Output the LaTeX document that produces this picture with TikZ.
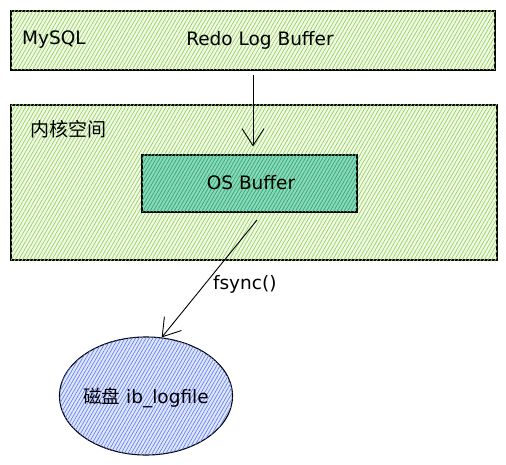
\documentclass[tikz,border=0pt]{standalone}
\usepackage{fontspec}
\setmainfont{DejaVu Sans}
\newfontfamily\cjkfont{Noto Sans CJK SC}
\usetikzlibrary{arrows.meta,patterns.meta,shapes.geometric}

\definecolor{hatchgreen}{HTML}{96D35A}
\definecolor{boxgreen}{HTML}{F1F9E8}
\definecolor{hatchteal}{HTML}{2FAF7E}
\definecolor{boxteal}{HTML}{8FD8B8}
\definecolor{hatchblue}{HTML}{6482F0}
\definecolor{boxblue}{HTML}{E0E6FC}

\tikzset{
  layer/.style={draw, line width=1.1pt, rectangle, inner sep=0pt, fill=boxgreen,
    postaction={pattern={Lines[angle=60,distance=3.2pt,line width=0.7pt]}, pattern color=hatchgreen}},
  osbox/.style={draw, line width=1.1pt, rectangle, inner sep=0pt, fill=boxteal,
    postaction={pattern={Lines[angle=60,distance=3pt,line width=0.8pt]}, pattern color=hatchteal}},
  diskbox/.style={draw, line width=1.1pt, ellipse, inner sep=0pt, fill=boxblue,
    postaction={pattern={Lines[angle=60,distance=3pt,line width=0.7pt]}, pattern color=hatchblue}},
  flow/.style={line width=0.9pt, -{Straight Barb[length=17pt,width=22pt,line width=0.9pt]}},
  tag/.style={font=\fontsize{18.5}{21}\selectfont, inner sep=0pt}
}

\begin{document}
\begin{tikzpicture}[x=1pt,y=-1pt]
  \useasboundingbox (0,0) rectangle (506,465);

  % Layers
  \node[layer, minimum width=484pt, minimum height=59pt] (mysql) at (253,40.5) {};
  \node[layer, minimum width=486pt, minimum height=155pt] (kernel) at (254,182.5) {};
  \node[osbox, minimum width=215pt, minimum height=57pt] (os) at (249.5,183.5) {};
  \node[diskbox, minimum width=173pt, minimum height=118pt] (disk) at (146,396) {};

  % Labels
  \node[tag, anchor=west] (mysqltag) at (22,40) {MySQL};
  \node[tag] (redo) at (260,40) {Redo Log Buffer};
  \node[tag, anchor=west] (kerneltag) at (30,129) {\cjkfont\fontsize{19}{21}\selectfont 内核空间};
  \node[tag] (ostag) at (251,183) {OS Buffer};
  \node[tag] (disktag) at (146,398) {{\cjkfont 磁盘} ib\_logfile};

  % Arrows
  \draw[flow, shorten <=4pt, shorten >=8pt] (mysql.south) -- (mysql.south |- os.north);
  \coordinate (osout) at (257,220);
  \draw[flow] (osout) -- (disk.75)
    node[tag, pos=0.55, right=8pt] (fsync) {fsync()};
\end{tikzpicture}
\end{document}
